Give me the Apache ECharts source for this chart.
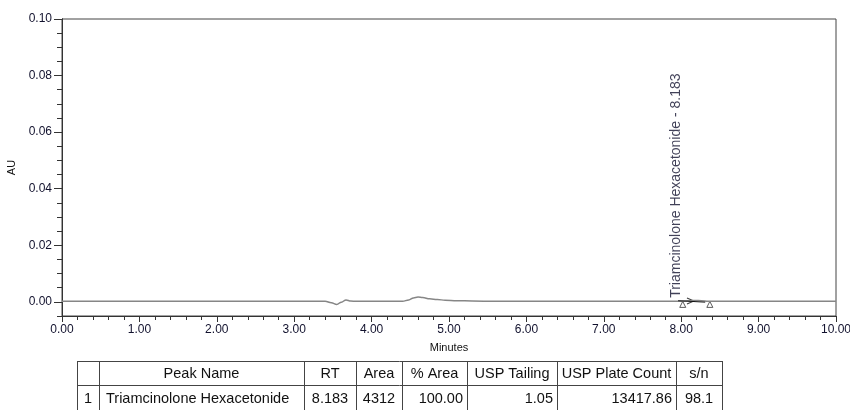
<!DOCTYPE html>
<html>
<head>
<meta charset="utf-8">
<script src="https://cdn.jsdelivr.net/npm/echarts@6/dist/echarts.min.js"></script>
<style>
html,body{margin:0;padding:0;width:850px;height:410px;overflow:hidden;background:#fff;}
#main{width:850px;height:410px;}
</style>
</head>
<body>
<div id="main"></div>
<script>
// chromatogram trace (minutes, AU)
var times = [0.00, 3.40, 3.48, 3.55, 3.61, 3.67, 3.73, 3.80, 4.40, 4.48, 4.54, 4.60, 4.66, 4.75, 4.85, 4.95, 5.10, 5.30, 5.60, 6.00, 7.95, 8.05, 8.12, 8.18, 8.26, 8.35, 8.45, 10.00];
var absorbance = [0.0002, 0.0002, -0.0003, -0.0009, -0.0001, 0.0007, 0.0003, 0.0002, 0.0002, 0.0007, 0.0014, 0.0017, 0.0015, 0.0011, 0.0008, 0.0006, 0.0004, 0.0003, 0.0002, 0.0002, 0.0002, 0.0003, 0.0004, 0.0005, 0.0004, 0.0002, 0.0002, 0.0002];

// integration of the peak
var peakName = 'Triamcinolone Hexacetonide';
var peakRT = 8.183;
var peakStart = 8.02, peakEnd = 8.37;
var dropLine = [[7.96, 0.0004], [8.31, -0.0001]];

var xTicks = [0, 1, 2, 3, 4, 5, 6, 7, 8, 9, 10];
var yMajor = [0, 0.02, 0.04, 0.06, 0.08, 0.10];

// result table
var tableHead = ['', 'Peak Name', 'RT', 'Area', '% Area', 'USP Tailing', 'USP Plate Count', 's/n'];
var tableRow = ['1', peakName, '8.183', '4312', '100.00', '1.05', '13417.86', '98.1'];

var font = '"Liberation Sans", Arial, sans-serif';
var labelColor = '#12122e';

var series_data = [];
for (var i = 0; i < times.length; i++) {
	series_data.push([times[i], absorbance[i]]);
}

// table drawn as graphic elements
var colEdges = [77, 99, 304, 356, 402, 467, 557, 676, 722];
var rowEdges = [361, 385, 409];
var colAlign = ['center', 'left', 'center', 'center', 'right', 'right', 'right', 'center'];
var graphics = [];
for (var r = 0; r < rowEdges.length - 1; r++) {
	graphics.push({type: 'line', shape: {x1: colEdges[0], y1: rowEdges[r] + 0.5, x2: colEdges[colEdges.length - 1], y2: rowEdges[r] + 0.5}, style: {stroke: '#444', lineWidth: 1}});
}
for (var c = 0; c < colEdges.length; c++) {
	graphics.push({type: 'line', shape: {x1: colEdges[c] + 0.5, y1: rowEdges[0], x2: colEdges[c] + 0.5, y2: 412}, style: {stroke: '#444', lineWidth: 1}});
}
function cell(txt, c, y, align) {
	var x;
	if (align == 'center') x = (colEdges[c] + colEdges[c + 1]) / 2;
	else if (align == 'left') x = colEdges[c] + 7;
	else x = colEdges[c + 1] - 4;
	return {type: 'text', x: x, y: y, style: {text: txt, fill: '#111', font: '14.5px ' + font, textAlign: align, textVerticalAlign: 'middle'}};
}
for (var c = 0; c < tableHead.length; c++) {
	if (tableHead[c]) graphics.push(cell(tableHead[c], c, 373.5, 'center'));
	graphics.push(cell(tableRow[c], c, 398.5, colAlign[c]));
}

var myChart = echarts.init(document.getElementById('main'));
var option = {
	animation: false,
	backgroundColor: '#fff',
	grid: {left: 62, right: 14, top: 19, bottom: 94, outerBoundsMode: 'none', containLabel: false,
		show: true, borderColor: '#444', borderWidth: 1},
	xAxis: {
		type: 'value', min: 0, max: 10, interval: 1,
		name: 'Minutes', nameLocation: 'middle', nameGap: 26,
		nameTextStyle: {fontFamily: font, fontSize: 11, color: '#111'},
		axisLine: {onZero: false, lineStyle: {color: '#333', width: 1}},
		axisTick: {length: 6, lineStyle: {color: '#333'}},
		minorTick: {show: true, splitNumber: 5, length: 4, lineStyle: {color: '#333'}},
		axisLabel: {margin: 8, fontFamily: font, fontSize: 12, color: labelColor, showMaxLabel: true,
			formatter: function (v) { return v.toFixed(2); }},
		splitLine: {show: false}
	},
	yAxis: [{
		type: 'value', min: -0.005, max: 0.1, interval: 0.005, position: 'left',
		name: 'AU', nameLocation: 'middle', nameGap: 41,
		nameTextStyle: {fontFamily: font, fontSize: 11, color: '#111'},
		axisLine: {show: true, lineStyle: {color: '#333', width: 1}},
		axisTick: {length: 5, lineStyle: {color: '#333'}},
		axisLabel: {customValues: yMajor, margin: 10, fontFamily: font, fontSize: 12, color: labelColor,
			formatter: function (v) { return v.toFixed(2); }},
		splitLine: {show: false}
	}, {
		type: 'value', min: -0.005, max: 0.1, position: 'left', offset: 0,
		axisLine: {show: true, lineStyle: {color: '#333', width: 1}},
		axisTick: {customValues: yMajor, length: 8, lineStyle: {color: '#333'}},
		axisLabel: {show: false},
		splitLine: {show: false}
	}],
	series: [{
		type: 'line',
		data: series_data,
		showSymbol: false,
		smooth: 0.4,
		smoothMonotone: 'x',
		lineStyle: {color: '#868686', width: 1.5}
	}, {
		type: 'line',
		data: dropLine,
		showSymbol: false,
		lineStyle: {color: '#111', width: 1}
	}, {
		type: 'scatter',
		data: [[peakStart, -0.0009], [peakEnd, -0.0009]],
		symbol: 'triangle',
		symbolSize: 6,
		itemStyle: {color: '#fff', borderColor: '#333', borderWidth: 1}
	}, {
		type: 'scatter',
		data: [[8.12, 0.0003]],
		symbol: 'path://M0,0L8,4L0,8',
		symbolSize: [7, 6],
		itemStyle: {color: 'transparent', borderColor: '#111', borderWidth: 1}
	}, {
		type: 'scatter',
		data: [[peakRT, 0]],
		symbolSize: 1,
		itemStyle: {color: 'transparent'},
		label: {
			show: true, position: 'inside', rotate: 90, align: 'left', verticalAlign: 'middle',
			offset: [4, -19],
			fontFamily: font, fontSize: 14, color: labelColor,
			formatter: peakName + ' - ' + peakRT.toFixed(3)
		}
	}],
	graphic: graphics
};
myChart.setOption(option, true);
</script>
</body>
</html>
